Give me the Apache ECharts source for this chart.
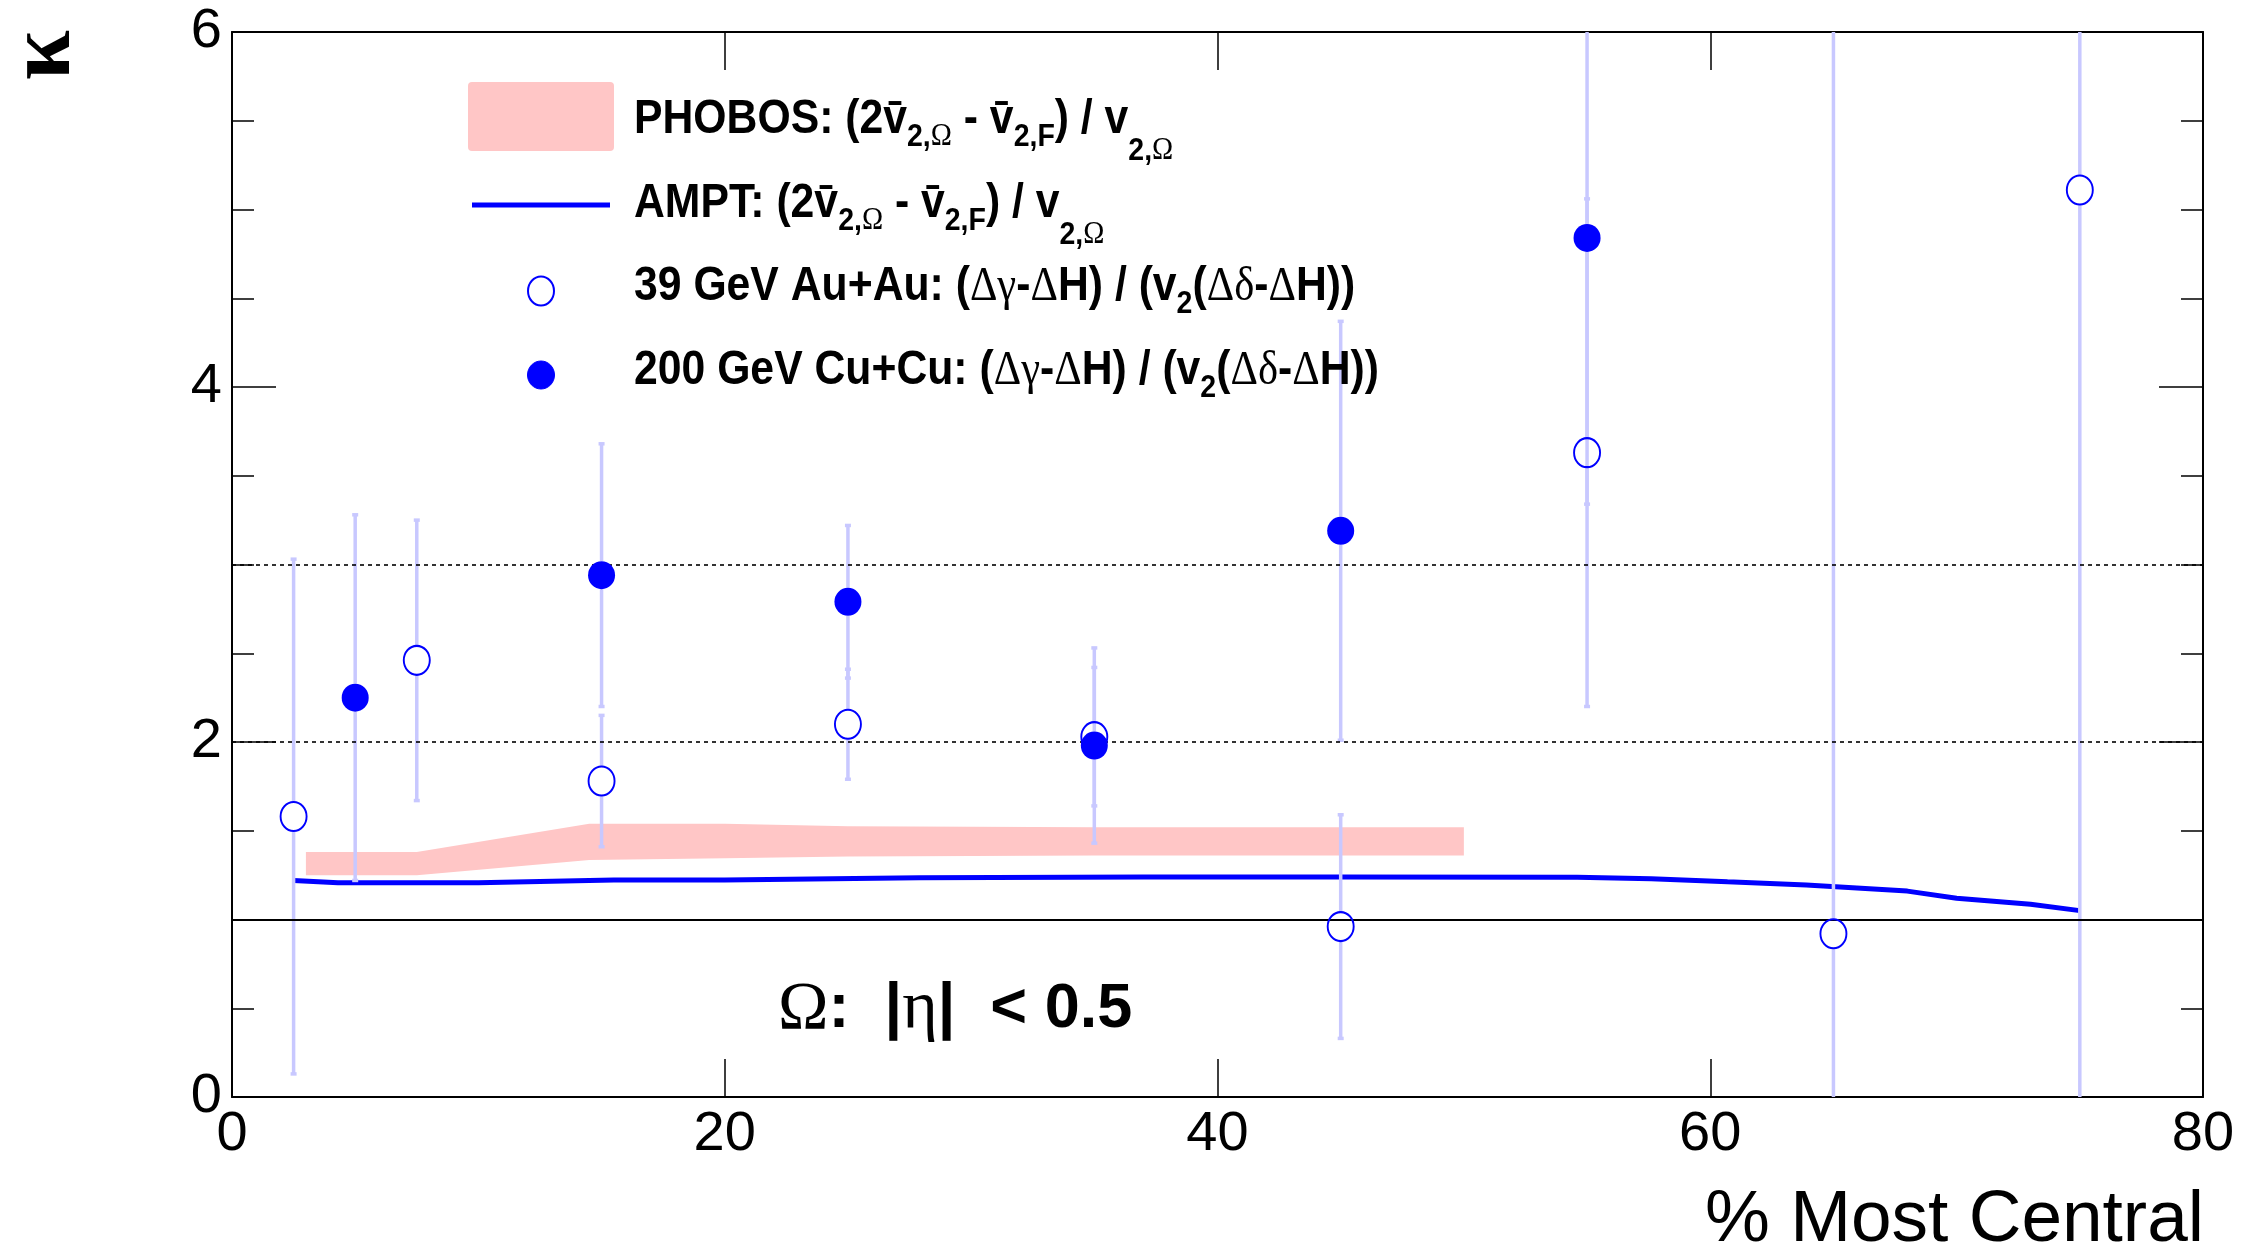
<!DOCTYPE html>
<html><head><meta charset="utf-8">
<script src="https://cdn.jsdelivr.net/npm/echarts@6/dist/echarts.min.js"></script>
<style>html,body{margin:0;padding:0;background:#fff}#c{width:2242px;height:1248px}</style>
</head><body><div id="c"></div>
<script>
// ---- data ----
const centrality39 = [2.5, 7.5, 15, 25, 35, 45, 55, 65, 75];
const kappa39      = [1.58, 2.46, 1.78, 2.10, 2.03, 0.96, 3.63, 0.92, 5.11];
const err39        = [1.45, 0.79, 0.37, 0.31, 0.39, 0.63, 1.43, 5.5, 5.6];

const centrality200 = [5, 15, 25, 35, 45, 55];
const kappa200      = [2.25, 2.94, 2.79, 1.98, 3.19, 4.84];
const err200        = [1.03, 0.74, 0.43, 0.55, 1.18, 1.5];

const amptX = [2.5, 4.3, 10, 15.5, 20, 27.9, 37, 45, 54.6, 57.6, 60.7, 63.9, 68, 70, 73, 75];
const amptY = [1.22, 1.207, 1.207, 1.222, 1.222, 1.235, 1.24, 1.24, 1.238, 1.229, 1.212, 1.195, 1.16, 1.12, 1.086, 1.05];

const phobosX    = [3, 7.5, 14.5, 20, 25, 35, 50];
const phobosLow  = [1.25, 1.25, 1.335, 1.345, 1.355, 1.36, 1.36];
const phobosHigh = [1.38, 1.38, 1.54, 1.54, 1.525, 1.52, 1.52];

const refLineValues = [1, 2, 3];
const refLineTypes  = ['solid', 'dashed', 'dashed'];

const xRange = [0, 80], xStep = 20;
const yRange = [0, 6], yStep = 2;

const legendLabels = [
  '{b|PHOBOS: (2v\u0304}{s|2,}{sg|\u03A9}{b| - v\u0304}{s|2,F}{b|) / v}{t|2,}{tg|\u03A9}',
  '{b|AMPT: (2v\u0304}{s|2,}{sg|\u03A9}{b| - v\u0304}{s|2,F}{b|) / v}{t|2,}{tg|\u03A9}',
  '{b|39 GeV Au+Au: (}{g|\u0394\u03B3}{b|-}{g|\u0394}{b|H) / (v}{s|2}{b|(}{g|\u0394\u03B4}{b|-}{g|\u0394}{b|H))}',
  '{b|200 GeV Cu+Cu: (}{g|\u0394\u03B3}{b|-}{g|\u0394}{b|H) / (v}{s|2}{b|(}{g|\u0394\u03B4}{b|-}{g|\u0394}{b|H))}'
];
const etaLabel = '{g|\u03A9}{b|:  |}{g|\u03B7}{b||  < 0.5}';
const xTitle = '% Most Central';
const yTitle = '\u03BA';

// ---- styles ----
const SANS = 'Liberation Sans, Arial, Helvetica, sans-serif';
const SERIF = 'Liberation Serif, Times New Roman, serif';
const BLUE = '#0000ff';
const ERRC = '#c8c8ff';
const PINK = '#ffc6c6';

const chart = echarts.init(document.getElementById('c'), null, {renderer: 'canvas'});

function errRender(xs, ys, es, gap) {
  return function (params, api) {
    const i = params.dataIndex;
    const c = api.coord([xs[i], ys[i]]);
    const t = api.coord([xs[i], ys[i] + es[i]]);
    const b = api.coord([xs[i], ys[i] - es[i]]);
    const st = {stroke: ERRC, lineWidth: 3.5};
    const ch = [];
    if (t[1] < c[1] - gap) ch.push({type: 'line', shape: {x1: c[0], y1: c[1] - gap, x2: c[0], y2: t[1]}, style: st});
    if (b[1] > c[1] + gap) ch.push({type: 'line', shape: {x1: c[0], y1: c[1] + gap, x2: c[0], y2: b[1]}, style: st});
    ch.push({type: 'line', shape: {x1: c[0] - 3, y1: t[1], x2: c[0] + 3, y2: t[1]}, style: st});
    ch.push({type: 'line', shape: {x1: c[0] - 3, y1: b[1], x2: c[0] + 3, y2: b[1]}, style: st});
    return {type: 'group', children: ch};
  };
}

function bandRender(params, api) {
  if (params.dataIndex !== 0) return null;
  const pts = [];
  for (let i = 0; i < phobosX.length; i++) pts.push(api.coord([phobosX[i], phobosHigh[i]]));
  for (let i = phobosX.length - 1; i >= 0; i--) pts.push(api.coord([phobosX[i], phobosLow[i]]));
  return {type: 'polygon', shape: {points: pts}, style: {fill: PINK}};
}

const axisCommon = {
  type: 'value',
  axisLine: {show: true, onZero: false, lineStyle: {color: '#000', width: 2}},
  splitLine: {show: false},
};

const richLegend = {
  b:  {fontFamily: SANS, fontWeight: 'bold', fontSize: 48, lineHeight: 48, color: '#000'},
  g:  {fontFamily: SERIF, fontSize: 48, lineHeight: 48, color: '#000'},
  s:  {fontFamily: SANS, fontWeight: 'bold', fontSize: 32, lineHeight: 32, padding: [34, 0, 0, 0], color: '#000'},
  sg: {fontFamily: SERIF, fontSize: 32, lineHeight: 32, padding: [34, 0, 0, 0], color: '#000'},
  t:  {fontFamily: SANS, fontWeight: 'bold', fontSize: 32, lineHeight: 32, padding: [62, 0, 0, 0], color: '#000'},
  tg: {fontFamily: SERIF, fontSize: 32, lineHeight: 32, padding: [62, 0, 0, 0], color: '#000'}
};
const legendRowsY = [120, 204, 287, 371];

const graphics = [
  {type: 'rect', shape: {x: 468, y: 82, width: 146, height: 69, r: 4}, style: {fill: PINK}, z: 10},
  {type: 'line', shape: {x1: 472, y1: 205, x2: 610, y2: 205}, style: {stroke: BLUE, lineWidth: 5}, z: 10},
  {type: 'ellipse', shape: {cx: 541, cy: 291, rx: 13, ry: 14.5}, style: {fill: 'none', stroke: BLUE, lineWidth: 2}, z: 10},
  {type: 'ellipse', shape: {cx: 541, cy: 375, rx: 13.5, ry: 14}, style: {fill: BLUE, stroke: BLUE, lineWidth: 1}, z: 10},
  {type: 'text', x: 46, y: 55, rotation: Math.PI / 2, z: 10,
   style: {text: yTitle, font: 'bold 90px ' + SERIF, fill: '#000', align: 'center', verticalAlign: 'middle'}},
  {type: 'text', x: 2204, y: 1221, z: 10,
   style: {text: xTitle, font: '73px ' + SANS, fill: '#000', align: 'right', verticalAlign: 'middle'}},
  {type: 'text', x: 778, y: 1010, z: 10,
   style: {text: etaLabel, align: 'left', verticalAlign: 'middle',
     rich: {b: {fontFamily: SANS, fontWeight: 'bold', fontSize: 63, lineHeight: 68, color: '#000'},
            g: {fontFamily: SERIF, fontSize: 68, lineHeight: 68, color: '#000'}}}}
];
legendLabels.forEach((t, i) => {
  graphics.push({type: 'text', x: 634, y: legendRowsY[i], scaleX: 0.89, z: 10,
    style: {text: t, align: 'left', verticalAlign: 'middle', rich: richLegend}});
});

const option = {
  animation: false,
  backgroundColor: '#fff',
  grid: {left: 232, right: 39, top: 32, bottom: 151, containLabel: false, outerBoundsMode: 'none'},
  xAxis: [
    Object.assign({}, axisCommon, {
      position: 'bottom', min: xRange[0], max: xRange[1], interval: xStep,
      axisTick: {show: true, inside: true, length: 38, lineStyle: {color: '#000', width: 1.5}},
      axisLabel: {show: true, fontFamily: SANS, fontSize: 56, lineHeight: 56, color: '#000', margin: 10}
    }),
    Object.assign({}, axisCommon, {
      position: 'top', min: xRange[0], max: xRange[1], interval: xStep,
      axisTick: {show: true, inside: true, length: 38, lineStyle: {color: '#000', width: 1.5}},
      axisLabel: {show: false}
    })
  ],
  yAxis: [
    Object.assign({}, axisCommon, {
      position: 'left', min: yRange[0], max: yRange[1], interval: yStep,
      axisTick: {show: true, inside: true, length: 44, lineStyle: {color: '#000', width: 1.5}},
      minorTick: {show: true, splitNumber: 4, length: 22, lineStyle: {color: '#000', width: 1.5}},
      axisLabel: {show: true, fontFamily: SANS, fontSize: 56, lineHeight: 56, color: '#000', margin: 10}
    }),
    Object.assign({}, axisCommon, {
      position: 'right', min: yRange[0], max: yRange[1], interval: yStep,
      axisTick: {show: true, inside: true, length: 44, lineStyle: {color: '#000', width: 1.5}},
      minorTick: {show: true, splitNumber: 4, length: 22, lineStyle: {color: '#000', width: 1.5}},
      axisLabel: {show: false}
    })
  ],
  series: [
    {
      name: 'PHOBOS', type: 'custom', renderItem: bandRender, clip: true, z: 1,
      data: phobosX.map((x, i) => [x, phobosLow[i], phobosHigh[i]]),
      encode: {x: 0, y: [1, 2]}
    },
    {
      name: 'AMPT', type: 'line', z: 3, symbol: 'none', showSymbol: false,
      data: amptX.map((x, i) => [x, amptY[i]]),
      lineStyle: {color: BLUE, width: 5},
      markLine: {
        silent: true, symbol: 'none', label: {show: false},
        data: refLineValues.map((v, i) => ({yAxis: v, lineStyle: {color: '#000', width: refLineTypes[i] === 'solid' ? 2 : 1.6, type: refLineTypes[i] === 'solid' ? 'solid' : [4, 4]}}))
      }
    },
    {
      name: 'err39', type: 'custom', clip: true, z: 4,
      renderItem: errRender(centrality39, kappa39, err39, 14),
      data: centrality39.map((x, i) => [x, kappa39[i], err39[i]]),
      encode: {x: 0, y: 1}
    },
    {
      name: 'err200', type: 'custom', clip: true, z: 4,
      renderItem: errRender(centrality200, kappa200, err200, 14),
      data: centrality200.map((x, i) => [x, kappa200[i], err200[i]]),
      encode: {x: 0, y: 1}
    },
    {
      name: '39 GeV Au+Au', type: 'scatter', z: 5, symbol: 'circle', symbolSize: [26, 29],
      data: centrality39.map((x, i) => [x, kappa39[i]]),
      itemStyle: {color: 'rgba(255,255,255,0)', borderColor: BLUE, borderWidth: 2, opacity: 1}
    },
    {
      name: '200 GeV Cu+Cu', type: 'scatter', z: 6, symbol: 'circle', symbolSize: [27, 28],
      data: centrality200.map((x, i) => [x, kappa200[i]]),
      itemStyle: {color: BLUE, opacity: 1}
    }
  ],
  graphic: graphics
};
chart.setOption(option);
</script>
</body></html>
